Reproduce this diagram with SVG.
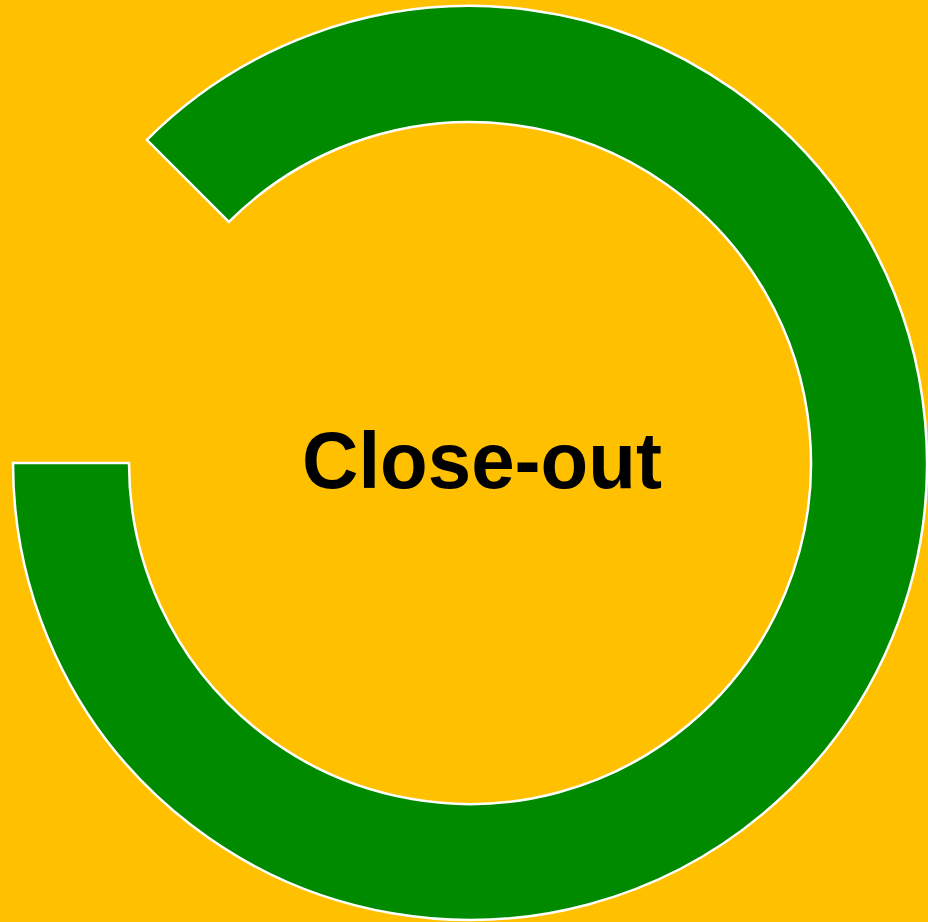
<svg xmlns="http://www.w3.org/2000/svg" width="928" height="922" viewBox="0 0 928 922">
<style>
.ring{fill:#008A00;stroke:#FFFFFF;stroke-width:2.5;stroke-linejoin:miter}
.label{font-family:"Liberation Sans",Arial,sans-serif;font-weight:bold;font-size:80px;fill:#000000}
</style>
<rect x="0" y="0" width="928" height="922" fill="#FFC000"/>
<g id="ring">
<path class="ring" d="M 13 463 L 129 463 A 341 341 0 1 0 228.9 221.9 L 146.85 139.85 A 457 457 0 1 1 13 463 Z"/>
</g>
<g id="label">
<text class="label" x="482" y="488" text-anchor="middle" textLength="360" lengthAdjust="spacingAndGlyphs">Close-out</text>
</g>
</svg>
